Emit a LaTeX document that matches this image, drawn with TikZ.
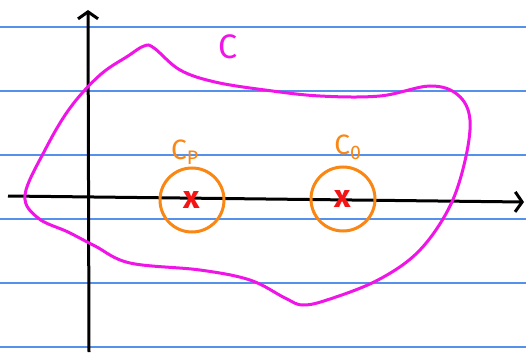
\documentclass[tikz,border=0pt]{standalone}
\usepackage{fontspec}
\setsansfont{Fira Sans}
\usetikzlibrary{arrows.meta,positioning,backgrounds}

\definecolor{rule}{RGB}{85,145,235}
\definecolor{curvemag}{RGB}{240,20,230}
\definecolor{ringorange}{RGB}{250,135,20}
\definecolor{crossred}{RGB}{245,20,20}

\begin{document}
\begin{tikzpicture}[
    x=1pt, y=-1pt,
    font=\sffamily,
    background rectangle/.style={fill=white,draw=none},
    show background rectangle,
    ruling/.style={rule,line width=1.1pt},
    axis/.style={line width=3pt,-{Straight Barb[length=7pt,width=20pt,line width=3pt]}},
    ring/.style={circle,draw=ringorange,line width=3pt,minimum size=64pt,inner sep=0pt},
    cross/.style={crossred,font=\sffamily\fontsize{32}{32}\selectfont\bfseries},
    label/.style={font=\sffamily\fontsize{34}{34}\selectfont},
    sublabel/.style={ringorange,font=\sffamily\fontsize{28}{28}\selectfont}
]
\path[use as bounding box] (0,0) rectangle (526,355);

% ruled paper
\foreach \y in {27,91,155,219,283,347}
    \draw[ruling] (0,\y) -- (526,\y);

% axes
\coordinate (xfrom) at (8,196);
\coordinate (xto) at (524,202);
\coordinate (yfrom) at (89,352);
\coordinate (yto) at (88,10);
\draw[axis] (xfrom) -- (xto);
\draw[axis] (yfrom) -- (yto);

% region C
\draw[curvemag,line width=3pt] plot[smooth cycle,tension=0.6] coordinates {
    (25,195) (45,150) (70,108) (100,75) (128,56) (144,46) (154,48) (180,70)
    (215,82) (265,90) (320,96) (380,96) (430,86) (458,95) (470,120)
    (464,165) (448,210) (418,252) (378,280) (330,299) (303,305) (285,298)
    (250,280) (200,270) (130,263) (95,246) (68,232) (38,218)};
\node[label,curvemag] (cname) at (228,47) {C};

% discs around the two points
\node[ring] (ringp) at (192,200) {};
\node[ring] (ringo) at (343,199) {};
\node[cross] (xp) at (ringp.center) {x};
\node[cross] (xo) at (ringo.center) {x};
\node[sublabel] (pname) at (185,152) {C\textsubscript{P}};
\node[sublabel] (oname) at (348,147) {C\textsubscript{0}};
\end{tikzpicture}
\end{document}
